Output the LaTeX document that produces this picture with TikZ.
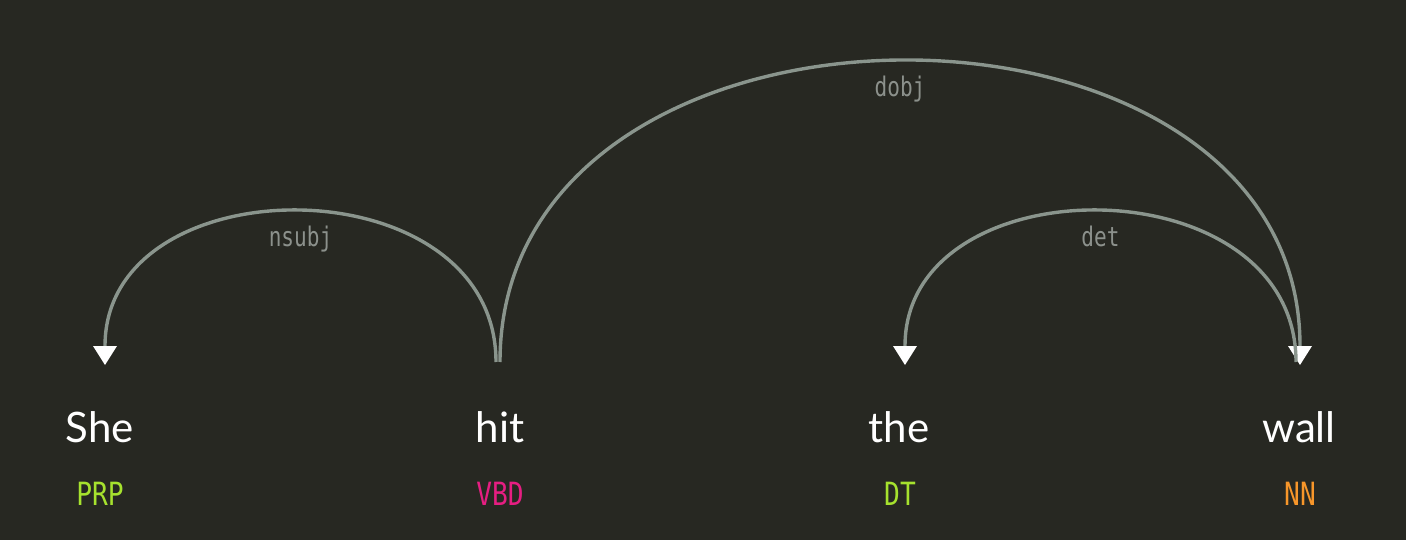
\documentclass[tikz,border=0pt]{standalone}
\usepackage{fontspec}
\usetikzlibrary{arrows.meta}
\newfontfamily\wordfont{Lato}
\newfontfamily\tagfont[FakeStretch=0.82]{DejaVu Sans Mono}
\newfontfamily\lblfont[FakeStretch=0.78]{DejaVu Sans Mono}
\definecolor{bgc}{HTML}{272822}
\definecolor{arcgray}{HTML}{8A958D}
\definecolor{lblgray}{HTML}{8C918C}
\definecolor{tgreen}{HTML}{A6E22E}
\definecolor{tpink}{HTML}{E61E82}
\definecolor{torange}{HTML}{F7962A}
\begin{document}
\begin{tikzpicture}[x=1pt,y=-1pt,
  word/.style={font=\wordfont\fontsize{42}{48}\selectfont, text=white, anchor=base, inner sep=0pt},
  postag/.style={font=\tagfont\fontsize{32}{36}\selectfont, anchor=base, inner sep=0pt},
  deparc/.style={draw=arcgray, line width=3.4pt, -{Triangle[width=24pt,length=19pt,color=white,fill=white,line width=0pt]}},
  arclabel/.style={font=\lblfont\fontsize{27}{30}\selectfont, text=lblgray, anchor=north, inner sep=0pt, yshift=-12pt}]
\fill[bgc] (0,0) rectangle (1406,540);
\useasboundingbox (0,0) rectangle (1406,540);
% words
\node[word] (She) at (100,442) {She};
\node[word] (hit) at (500,442) {hit};
\node[word] (the) at (899,442) {the};
\node[word] (wall) at (1299,442) {wall};
% tags
\node[postag, text=tgreen] (tShe) at (100,505) {PRP};
\node[postag, text=tpink] (thit) at (500,505) {VBD};
\node[postag, text=tgreen] (tthe) at (900,505) {DT};
\node[postag, text=torange] (twall) at (1300,505) {NN};
% arc end points
\coordinate (hitA) at (496,362);
\coordinate (hitB) at (500,362);
\coordinate (wallA) at (1296,362);
\coordinate (SheIn) at (105,365);
\coordinate (theIn) at (905,365);
\coordinate (wallIn) at (1300,365);
% arcs
\draw[deparc] (hitA) .. controls +(0,-200) and +(0,-203) .. node[arclabel] {nsubj} (SheIn);
\draw[deparc] (hitB) .. controls +(0,-400) and +(0,-403) .. node[arclabel] {dobj} (wallIn);
\draw[deparc] (wallA) .. controls +(0,-200) and +(0,-203) .. node[arclabel] {det} (theIn);
\end{tikzpicture}
\end{document}
